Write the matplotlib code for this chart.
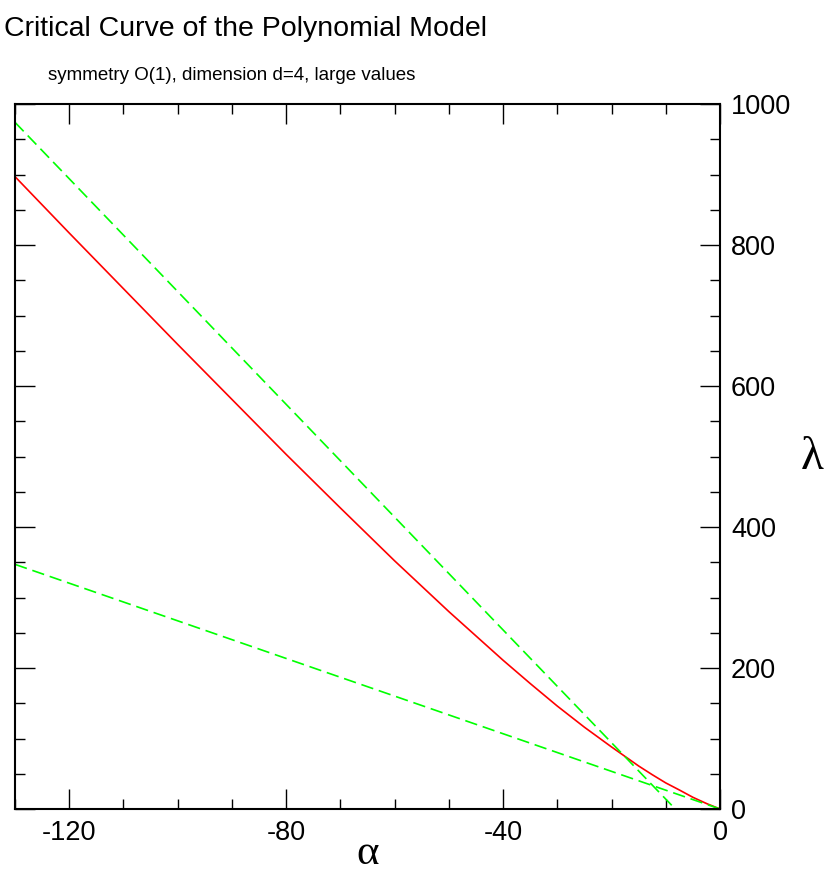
import matplotlib
matplotlib.use("Agg")
import matplotlib.pyplot as plt
from matplotlib.ticker import MultipleLocator

plt.rcParams["axes.unicode_minus"] = False

# ---- data ----
alpha_crit = [-130, -120, -110, -100, -90, -80, -70, -60, -50, -40, -35, -30, -25, -20,
              -17.5, -15, -12.5, -10, -7.5, -5, -2.5, 0]
lambda_crit = [897, 817, 738, 659, 581, 503, 427, 352, 280, 211, 178, 146, 116, 88,
               74.5, 61, 48.7, 37, 27, 16.6, 7.8, 0]

alpha_upper = [-130, -8.25]
lambda_upper = [974, 0]

alpha_lower = [-130, 0]
lambda_lower = [347, 0]

title = "Critical Curve of the Polynomial Model"
subtitle = "symmetry O(1), dimension d=4, large values"
xticks = [-120, -80, -40, 0]
yticks = [0, 200, 400, 600, 800, 1000]

W, H = 827, 877
fig = plt.figure(figsize=(W / 100, H / 100), dpi=100)
ax = fig.add_axes([15 / W, 1 - 809 / H, (720 - 15) / W, (809 - 104) / H])

ax.plot(alpha_crit, lambda_crit, color="#ff0000", lw=1.2)
ax.plot(alpha_upper, lambda_upper, color="#00ff00", lw=1.2, dashes=(7.5, 3.5))
ax.plot(alpha_lower, lambda_lower, color="#00ff00", lw=1.2, dashes=(7.5, 3.5))

ax.set_xlim(-130, 0)
ax.set_ylim(0, 1000)
ax.set_xticks(xticks)
ax.set_yticks(yticks)
ax.xaxis.set_minor_locator(MultipleLocator(10))
ax.yaxis.set_minor_locator(MultipleLocator(50))

for s in ax.spines.values():
    s.set_linewidth(1.5)

ax.tick_params(which="both", direction="in", top=True, bottom=True, left=True, right=True,
               labelleft=False, labelright=True, labelbottom=True, labeltop=False,
               width=1.0, color="black")
ax.tick_params(which="major", length=14.4, labelsize=19.5, pad=8)
ax.tick_params(which="minor", length=7.2)
for lab in ax.get_xticklabels() + ax.get_yticklabels():
    lab.set_family("Liberation Sans")

ax.set_xlabel("α", family="Liberation Serif", fontsize=31, va="center")
ax.xaxis.set_label_coords((368 - 15) / 705, (809 - 854) / 705)
ax.yaxis.set_label_position("right")
ax.set_ylabel("λ", family="Liberation Serif", fontsize=34, rotation=0, va="center", ha="center")
ax.yaxis.set_label_coords((812 - 15) / 705, (809 - 458) / 705)

fig.text(4 / W, 1 - 36 / H, title, family="Liberation Sans",
         fontsize=20.5, ha="left", va="baseline")
fig.text(48 / W, 1 - 80 / H, subtitle, family="Liberation Sans",
         fontsize=13.5, ha="left", va="baseline")

fig.savefig("out.png", dpi=100)
